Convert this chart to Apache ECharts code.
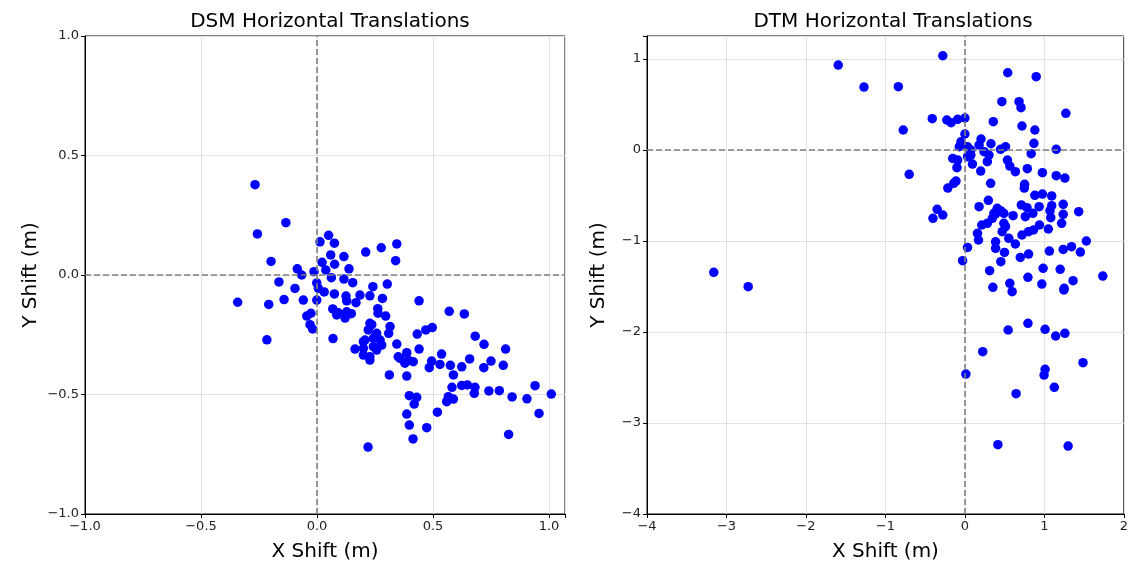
<!DOCTYPE html>
<html>
<head>
<meta charset="utf-8">
<script src="https://cdn.jsdelivr.net/npm/echarts@6/dist/echarts.min.js"></script>
<style>
html,body{margin:0;padding:0;background:#fff;}
#chart{width:1131px;height:568px;}
</style>
</head>
<body>
<div id="chart"></div>
<script>
// DSM horizontal translations (x shift, y shift in metres)
const dsmX = [-0.267,-0.134,-0.257,-0.198,-0.085,-0.066,-0.164,-0.095,-0.142,-0.059,-0.342,-0.208,-0.044,-0.026,-0.030,-0.019,-0.216,0.069,0.050,0.013,0.075,0.059,0.116,0.022,0.076,0.138,-0.013,0.038,0.062,0.116,0.154,-0.001,0.006,0.031,0.075,0.125,-0.001,0.210,0.277,0.344,0.339,0.303,0.241,0.228,0.185,0.168,0.282,0.068,0.092,0.128,0.148,0.121,0.262,0.263,0.296,0.236,0.221,0.315,0.309,0.257,0.272,0.200,0.243,0.164,0.344,0.279,0.350,0.200,0.228,0.085,0.207,0.228,0.228,0.440,0.570,0.635,0.432,0.469,0.497,0.682,0.720,0.813,0.440,0.387,0.358,0.394,0.415,0.379,0.537,0.494,0.530,0.484,0.575,0.624,0.658,0.750,0.719,0.803,0.312,0.387,0.588,0.582,0.624,0.648,0.681,0.678,0.741,0.786,0.841,0.905,0.940,1.010,0.957,0.826,0.398,0.430,0.419,0.566,0.588,0.559,0.519,0.387,0.398,0.473,0.414,0.220,0.128,0.257,0.200,0.243];
const dsmY = [0.378,0.219,0.172,0.057,0.026,0.000,-0.029,-0.056,-0.103,-0.105,-0.114,-0.123,-0.172,-0.160,-0.208,-0.226,-0.271,-0.266,0.166,0.139,0.133,0.084,0.077,0.053,0.045,0.026,0.014,0.021,-0.011,-0.017,-0.032,-0.033,-0.056,-0.071,-0.079,-0.088,-0.105,0.096,0.114,0.130,0.060,-0.038,-0.049,-0.087,-0.084,-0.116,-0.098,-0.142,-0.158,-0.154,-0.162,-0.180,-0.141,-0.160,-0.172,-0.208,-0.230,-0.216,-0.244,-0.244,-0.272,-0.279,-0.300,-0.310,-0.289,-0.293,-0.342,-0.335,-0.342,-0.167,-0.272,-0.202,-0.356,-0.108,-0.152,-0.163,-0.247,-0.230,-0.220,-0.256,-0.290,-0.310,-0.310,-0.325,-0.349,-0.356,-0.363,-0.369,-0.331,-0.360,-0.374,-0.388,-0.378,-0.384,-0.351,-0.360,-0.388,-0.378,-0.418,-0.423,-0.418,-0.470,-0.462,-0.460,-0.470,-0.495,-0.485,-0.484,-0.510,-0.518,-0.463,-0.498,-0.579,-0.667,-0.505,-0.512,-0.540,-0.509,-0.519,-0.530,-0.574,-0.582,-0.628,-0.639,-0.686,-0.720,-0.108,-0.314,-0.307,-0.265];

// DTM horizontal translations
const dtmX = [-3.160,-2.727,-1.594,-1.270,-0.838,-0.776,-0.701,-0.278,0.539,0.897,0.465,0.681,0.706,1.270,-0.411,-0.228,-0.174,-0.091,0.000,0.357,0.718,0.880,0.000,-0.050,-0.071,0.033,0.203,0.178,0.328,0.511,0.448,0.868,0.834,1.149,0.075,0.075,0.033,0.095,-0.153,-0.091,-0.100,0.241,0.303,0.282,0.535,0.565,0.635,0.199,0.785,0.975,1.149,1.258,0.324,0.751,0.747,-0.112,-0.141,-0.215,0.880,0.975,1.092,0.295,0.178,0.710,0.781,0.934,1.092,1.237,0.407,0.448,0.386,0.490,0.345,0.365,0.606,0.760,0.855,1.071,1.080,1.237,1.217,1.432,-0.349,-0.278,-0.402,0.212,0.282,0.158,0.171,0.490,0.469,0.511,0.552,0.635,0.718,0.801,0.863,0.938,1.050,1.528,0.386,0.386,0.033,-0.029,0.498,0.452,0.697,0.801,1.063,1.237,1.341,1.453,0.311,0.984,1.199,0.793,1.735,1.361,0.352,0.565,0.968,1.249,0.594,1.245,0.793,0.544,1.009,1.142,1.258,0.224,1.486,1.009,0.012,0.996,1.125,0.644,0.415,1.299];
const dtmY = [-1.344,-1.502,0.934,0.692,0.696,0.220,-0.267,1.036,0.849,0.806,0.531,0.531,0.465,0.403,0.344,0.330,0.300,0.337,0.352,0.311,0.264,0.220,0.176,0.091,0.036,0.036,0.121,0.055,0.069,0.036,0.008,0.074,-0.040,0.008,0.000,-0.055,-0.073,-0.154,-0.092,-0.110,-0.194,-0.018,-0.055,-0.128,-0.110,-0.176,-0.238,-0.231,-0.205,-0.249,-0.282,-0.308,-0.366,-0.377,-0.418,-0.341,-0.366,-0.418,-0.498,-0.484,-0.505,-0.553,-0.623,-0.604,-0.634,-0.623,-0.612,-0.597,-0.641,-0.667,-0.703,-0.696,-0.751,-0.696,-0.722,-0.733,-0.696,-0.667,-0.744,-0.707,-0.806,-0.678,-0.652,-0.714,-0.751,-0.824,-0.806,-0.916,-0.989,-0.806,-0.898,-0.843,-0.970,-1.033,-0.934,-0.898,-0.879,-0.824,-0.868,-1.000,-1.008,-1.080,-1.070,-1.216,-1.125,-1.227,-1.180,-1.143,-1.110,-1.092,-1.062,-1.121,-1.326,-1.300,-1.311,-1.399,-1.385,-1.436,-1.509,-1.465,-1.473,-1.520,-1.557,-1.538,-1.905,-1.978,-1.971,-2.044,-2.015,-2.216,-2.337,-2.410,-2.462,-2.473,-2.608,-2.678,-3.238,-3.253];

const titles = ['DSM Horizontal Translations', 'DTM Horizontal Translations'];
const xLabel = 'X Shift (m)';
const yLabel = 'Y Shift (m)';

function pairs(xs, ys) { return xs.map((x, i) => [x, ys[i]]); }
function fmt(step, dec) {
  return function (v) {
    const r = v / step;
    if (Math.abs(r - Math.round(r)) > 1e-6) return '';
    const s = Math.abs(v) < 1e-9 ? (0).toFixed(dec) : Math.abs(v).toFixed(dec);
    return (v < -1e-9 ? '\u2212' : '') + s;
  };
}

const FONT = 'DejaVu Sans';
const tickLabel = { color: '#222', fontSize: 13, fontFamily: FONT, margin: 6 };
const gridLine = { show: true, lineStyle: { color: '#e2e2e2', width: 1 } };
const tick = { show: true, inside: false, length: 4, lineStyle: { color: '#000' } };
const nameStyle = { fontSize: 20, fontFamily: FONT, color: '#000' };

function xAxis(idx, min, max, step, dec) {
  return {
    type: 'value', gridIndex: idx, min: min, max: max, interval: step,
    name: xLabel, nameLocation: 'middle', nameGap: 28, nameTextStyle: nameStyle,
    axisLine: { show: true, onZero: false, lineStyle: { color: '#000' } },
    axisTick: tick, splitLine: gridLine,
    axisLabel: Object.assign({ formatter: fmt(step, dec) }, tickLabel)
  };
}
function yAxis(idx, min, max, step, dec, gap) {
  return {
    type: 'value', gridIndex: idx, min: min, max: max, interval: step,
    name: yLabel, nameLocation: 'middle', nameGap: gap, nameTextStyle: nameStyle,
    axisLine: { show: true, onZero: false, lineStyle: { color: '#000' } },
    axisTick: tick, splitLine: gridLine,
    axisLabel: Object.assign({ formatter: fmt(step, dec) }, tickLabel)
  };
}
function refLines() {
  return {
    silent: true, symbol: 'none', animation: false,
    label: { show: false },
    lineStyle: { color: '#7f7f7f', type: [6, 3], width: 1.6, opacity: 1 },
    data: [{ xAxis: 0 }, { yAxis: 0 }]
  };
}

const chart = echarts.init(document.getElementById('chart'), null, { renderer: 'canvas' });
chart.setOption({
  animation: false,
  backgroundColor: '#fff',
  title: [
    { text: titles[0], left: 325, top: 7, textAlign: 'center', textStyle: { fontSize: 20, fontWeight: 'normal', fontFamily: FONT, color: '#000' } },
    { text: titles[1], left: 888, top: 7, textAlign: 'center', textStyle: { fontSize: 20, fontWeight: 'normal', fontFamily: FONT, color: '#000' } }
  ],
  grid: [
    { left: 85, top: 36, width: 480, height: 478, show: true, borderColor: '#000', borderWidth: 1, backgroundColor: 'transparent' },
    { left: 647, top: 36, width: 482, height: 478, show: true, borderColor: '#000', borderWidth: 1, backgroundColor: 'transparent' }
  ],
  xAxis: [xAxis(0, -1, 1.069, 0.5, 1), xAxis(1, -4, 2, 1, 0)],
  yAxis: [yAxis(0, -1, 1, 0.5, 1, 44), yAxis(1, -4, 1.253, 1, 0, 38)],
  series: [
    { type: 'scatter', xAxisIndex: 0, yAxisIndex: 0, data: pairs(dsmX, dsmY), symbolSize: 9.5,
      itemStyle: { color: '#0000ff', opacity: 1 }, markLine: refLines() },
    { type: 'scatter', xAxisIndex: 1, yAxisIndex: 1, data: pairs(dtmX, dtmY), symbolSize: 9.5,
      itemStyle: { color: '#0000ff', opacity: 1 }, markLine: refLines() }
  ]
});
</script>
</body>
</html>
